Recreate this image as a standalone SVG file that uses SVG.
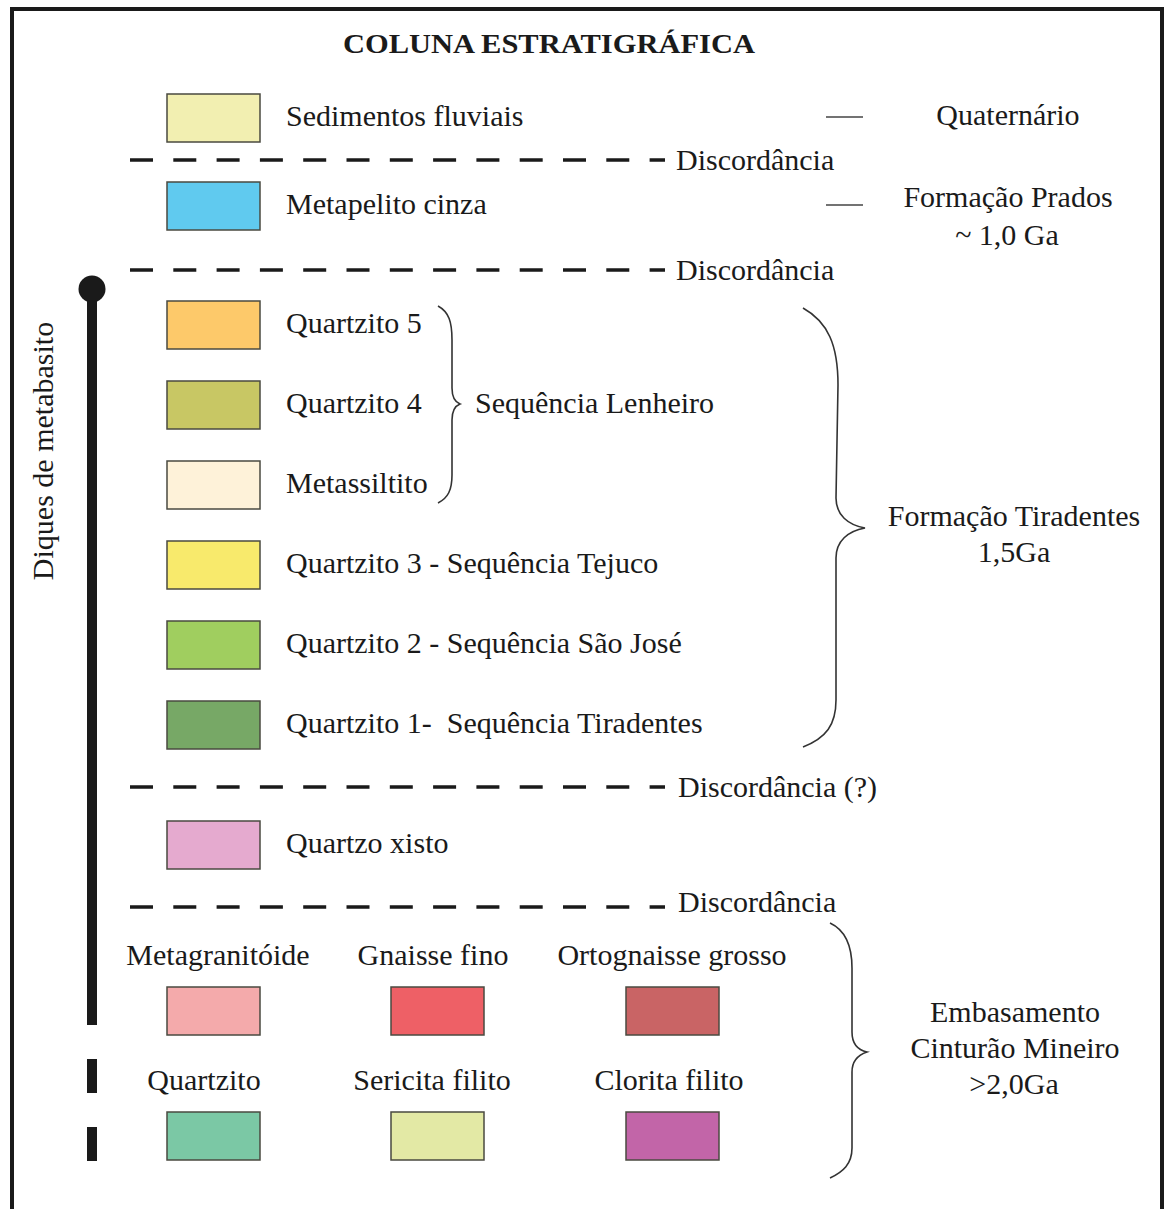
<svg xmlns="http://www.w3.org/2000/svg" width="1166" height="1209" viewBox="0 0 1166 1209">
<style>
text{font-family:"Liberation Serif","Times New Roman",serif;font-size:30px;fill:#1a1a1a}
.t{font-weight:bold;font-size:28px}
.c{text-anchor:middle}
.sw{stroke:#4a4a40;stroke-width:1.5}
.dash{stroke:#1a1a1a;stroke-width:3.5;stroke-dasharray:23 20.3;fill:none}
.brace{fill:none;stroke:#333;stroke-width:1.6}
.tick{stroke:#444;stroke-width:1.5}
</style>
<rect x="0" y="0" width="1166" height="1209" fill="#fff"/>
<rect x="12" y="9" width="1150" height="1230" fill="none" stroke="#1a1a1a" stroke-width="4"/>
<text class="t c" x="549" y="53" textLength="412" lengthAdjust="spacingAndGlyphs">COLUNA ESTRATIGRÁFICA</text>

<g id="dikes">
<circle cx="92" cy="289" r="13.5" fill="#1a1a1a"/>
<rect x="87" y="289" width="10" height="736" fill="#1a1a1a"/>
<rect x="87" y="1059" width="10" height="34" fill="#1a1a1a"/>
<rect x="87" y="1127" width="10" height="34" fill="#1a1a1a"/>
<text class="c" transform="translate(53,451) rotate(-90)">Diques de metabasito</text>
</g>

<g id="connectors">
<line class="dash" x1="130" y1="160" x2="665" y2="160"/>
<line class="dash" x1="130" y1="270" x2="665" y2="270"/>
<line class="dash" x1="130" y1="787" x2="665" y2="787"/>
<line class="dash" x1="130" y1="907" x2="665" y2="907"/>
<line class="tick" x1="826" y1="117" x2="863" y2="117"/>
<line class="tick" x1="826" y1="205" x2="863" y2="205"/>
<path class="brace" d="M438,306 C449,312 452,322 452,340 L452,388 C452,398 455,402 460,404 C455,406 452,410 452,420 L452,475 C452,490 448,498 438,503"/>
<path class="brace" d="M803,308 C828,322 838,345 838,385 L836,498 C836,515 848,525 865,528 C848,531 836,541 836,558 L836,700 C836,725 826,738 803,747"/>
<path class="brace" d="M830,923 C845,930 852,945 852,968 L852,1032 C852,1044 858,1050 867,1052 C858,1055 852,1061 852,1072 L852,1148 C852,1164 843,1172 830,1178"/>
</g>

<g id="discordancias">
<text x="676" y="170">Discordância</text>
<text x="676" y="280">Discordância</text>
<text x="678" y="797">Discordância (?)</text>
<text x="678" y="912">Discordância</text>
</g>

<g id="sedimentos"><rect class="sw" x="167" y="94" width="93" height="48" fill="#f2efb1"/><text x="286" y="126">Sedimentos fluviais</text></g>
<g id="metapelito"><rect class="sw" x="167" y="182" width="93" height="48" fill="#60caef"/><text x="286" y="214">Metapelito cinza</text></g>
<g id="quartzito5"><rect class="sw" x="167" y="301" width="93" height="48" fill="#fdc96a"/><text x="286" y="333">Quartzito 5</text></g>
<g id="quartzito4"><rect class="sw" x="167" y="381" width="93" height="48" fill="#c8c764"/><text x="286" y="413">Quartzito 4</text></g>
<g id="metassiltito"><rect class="sw" x="167" y="461" width="93" height="48" fill="#fef2d9"/><text x="286" y="493">Metassiltito</text></g>
<g id="quartzito3"><rect class="sw" x="167" y="541" width="93" height="48" fill="#f8ea6c"/><text x="286" y="573">Quartzito 3 - Sequência Tejuco</text></g>
<g id="quartzito2"><rect class="sw" x="167" y="621" width="93" height="48" fill="#a0ce5f"/><text x="286" y="653">Quartzito 2 - Sequência São José</text></g>
<g id="quartzito1"><rect class="sw" x="167" y="701" width="93" height="48" fill="#77a866"/><text x="286" y="733" xml:space="preserve">Quartzito 1-  Sequência Tiradentes</text></g>
<g id="quartzoxisto"><rect class="sw" x="167" y="821" width="93" height="48" fill="#e5aacf"/><text x="286" y="853">Quartzo xisto</text></g>

<g id="lenheiro"><text x="475" y="413">Sequência Lenheiro</text></g>
<g id="quaternario"><text class="c" x="1008" y="125">Quaternário</text></g>
<g id="prados"><text class="c" x="1008" y="207">Formação Prados</text><text class="c" x="1007" y="245">~ 1,0 Ga</text></g>
<g id="tiradentes"><text class="c" x="1014" y="526">Formação Tiradentes</text><text class="c" x="1014" y="562">1,5Ga</text></g>
<g id="embasamento"><text class="c" x="1015" y="1022">Embasamento</text><text class="c" x="1015" y="1058">Cinturão Mineiro</text><text class="c" x="1014" y="1094">&gt;2,0Ga</text></g>

<g id="metagranitoide"><text class="c" x="218" y="965">Metagranitóide</text><rect class="sw" x="167" y="987" width="93" height="48" fill="#f4aaab"/></g>
<g id="gnaissefino"><text class="c" x="433" y="965">Gnaisse fino</text><rect class="sw" x="391" y="987" width="93" height="48" fill="#ee6066"/></g>
<g id="ortognaisse"><text class="c" x="672" y="965">Ortognaisse grosso</text><rect class="sw" x="626" y="987" width="93" height="48" fill="#c96465"/></g>
<g id="quartzito"><text class="c" x="204" y="1090">Quartzito</text><rect class="sw" x="167" y="1112" width="93" height="48" fill="#7bc8a5"/></g>
<g id="sericita"><text class="c" x="432" y="1090">Sericita filito</text><rect class="sw" x="391" y="1112" width="93" height="48" fill="#e3e9a5"/></g>
<g id="clorita"><text class="c" x="669" y="1090">Clorita filito</text><rect class="sw" x="626" y="1112" width="93" height="48" fill="#c265a8"/></g>
</svg>
